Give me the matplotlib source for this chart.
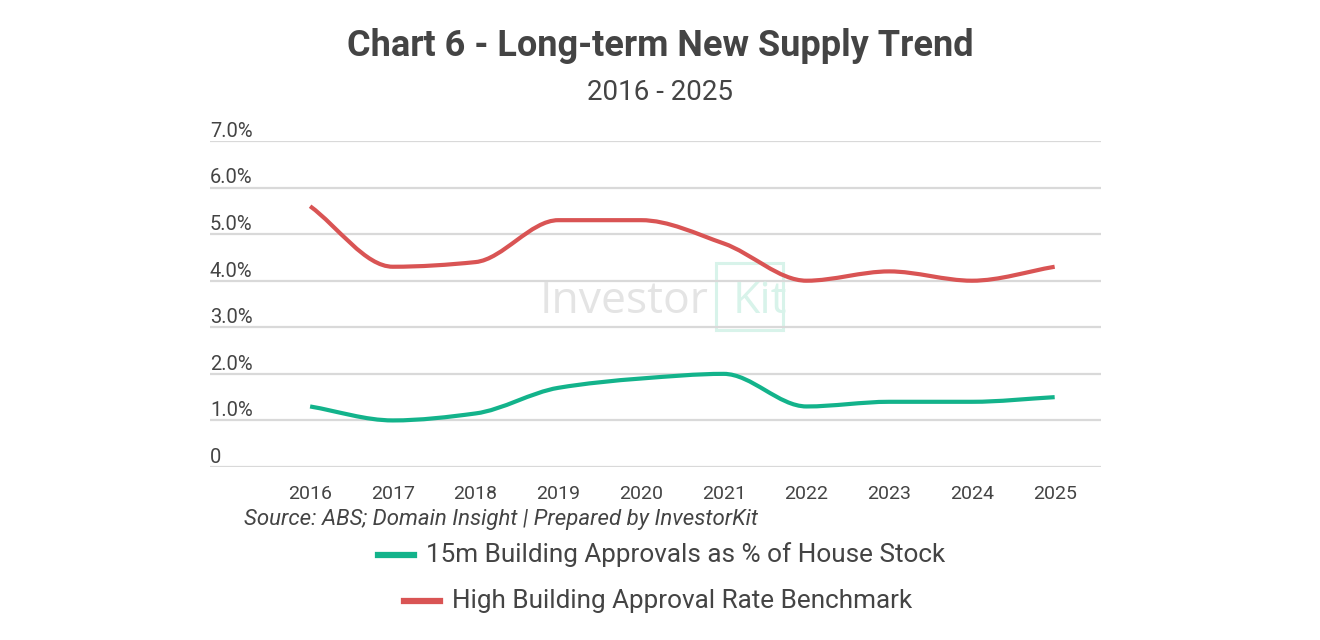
import matplotlib
matplotlib.use('Agg')
from matplotlib import pyplot as plt
from matplotlib.path import Path
from matplotlib.patches import PathPatch, Rectangle
import numpy as np

plt.rcParams['font.family'] = ['Roboto', 'DejaVu Sans']

years = [2016, 2017, 2018, 2019, 2020, 2021, 2022, 2023, 2024, 2025]
approvals_pct = [1.3, 1.0, 1.15, 1.7, 1.9, 2.0, 1.3, 1.4, 1.4, 1.5]
benchmark_pct = [5.6, 4.3, 4.4, 5.3, 5.3, 4.8, 4.0, 4.2, 4.0, 4.3]
y_ticks = [0, 1, 2, 3, 4, 5, 6, 7]
y_tick_labels = ['0', '1.0%', '2.0%', '3.0%', '4.0%', '5.0%', '6.0%', '7.0%']

series_names = ['15m Building Approvals as % of House Stock',
                'High Building Approval Rate Benchmark']
GREEN = '#13b38b'
RED = '#d95454'
TEXT = '#444444'
GRID = '#d9d9d9'


def monotone_path( xs, ys ):
    """Bezier path through the points with monotone (Fritsch-Carlson) tangents."""
    xs = np.asarray( xs, dtype=float )
    ys = np.asarray( ys, dtype=float )
    h = np.diff( xs )
    d = np.diff( ys ) / h
    m = np.zeros_like( ys )
    m[0], m[-1] = d[0], d[-1]
    for i in range( 1, len( ys ) - 1 ):
        if d[i - 1] * d[i] <= 0:
            m[i] = 0
        else:
            m[i] = 2 / ( 1 / d[i - 1] + 1 / d[i] )
    verts = [ ( xs[0], ys[0] ) ]
    codes = [ Path.MOVETO ]
    for i in range( len( xs ) - 1 ):
        verts += [ ( xs[i] + h[i] / 3, ys[i] + m[i] * h[i] / 3 ),
                   ( xs[i + 1] - h[i] / 3, ys[i + 1] - m[i + 1] * h[i] / 3 ),
                   ( xs[i + 1], ys[i + 1] ) ]
        codes += [ Path.CURVE4 ] * 3
    return Path( verts, codes )


fig = plt.figure( figsize=(13.2, 6.4), dpi=100 )
W, H = 1320, 640

# watermark goes on the figure, under a transparent axes
wm_y = 1 - 313 / H
fig.text( 540 / W, wm_y, 'Investor', fontsize=32, color='#e4e4e4',
          fontfamily='Open Sans', ha='left', va='baseline' )
fig.text( 733 / W, wm_y, 'Kit', fontsize=32, color='#d8f3ea',
          fontfamily='Open Sans', ha='left', va='baseline' )
fig.patches.append( Rectangle( ( 716 / W, 1 - 330 / H ), 67 / W, 67 / H,
                               transform=fig.transFigure, fill=False,
                               edgecolor='#d8f3ea', linewidth=2.2 ) )

ax = fig.add_axes( [ 210 / W, 1 - 467 / H, ( 1101 - 210 ) / W, ( 467 - 141 ) / H ] )
ax.patch.set_visible( False )
ax.set_zorder( 2 )

ax.set_xlim( years[0] - 1.21, years[-1] + 0.56 )
ax.set_ylim( 0, 7 )
for s in ax.spines.values():
    s.set_visible( False )
ax.set_yticks( y_ticks )
ax.set_yticklabels( [] )
ax.tick_params( axis='y', length=0 )
ax.yaxis.grid( True, color=GRID, linewidth=1.6 )
ax.set_axisbelow( True )
ax.set_xticks( years )
ax.set_xticklabels( [ str(y) for y in years ], fontsize=14, color=TEXT )
ax.tick_params( axis='x', length=0, pad=13 )

for val, lab in zip( y_ticks, y_tick_labels ):
    ax.text( 0, val + 0.09, lab, transform=ax.get_yaxis_transform(),
             ha='left', va='baseline', fontsize=14.5, color=TEXT )

for vals, col in [ ( approvals_pct, GREEN ), ( benchmark_pct, RED ) ]:
    ax.add_patch( PathPatch( monotone_path( years, vals ), facecolor='none',
                             edgecolor=col, linewidth=3, capstyle='butt', zorder=3 ) )

fig.text( 0.5, 1 - 46 / H, 'Chart 6 - Long-term New Supply Trend', ha='center',
          va='center', fontsize=26, fontweight='bold', color=TEXT )
fig.text( 0.5, 1 - 93 / H, '2016 - 2025', ha='center', va='center',
          fontsize=20, color=TEXT )
fig.text( 244 / W, 1 - 520 / H, 'Source: ABS; Domain Insight | Prepared by InvestorKit',
          ha='left', va='center', fontsize=16, style='italic', color=TEXT )

# legend, one centred row per series
for (name, col, x0, x1, ty) in [ ( series_names[0], GREEN, 378, 414, 555 ),
                                 ( series_names[1], RED, 404, 440, 601 ) ]:
    fig.lines.append( plt.Line2D( [ x0 / W, x1 / W ], [ 1 - ty / H ] * 2,
                                  transform=fig.transFigure, color=col, linewidth=4.5 ) )
    fig.text( ( x1 + 12 ) / W, 1 - ty / H, name, ha='left', va='center',
              fontsize=18.8, color=TEXT )

fig.savefig( 'out.png', dpi=100, facecolor='white' )
